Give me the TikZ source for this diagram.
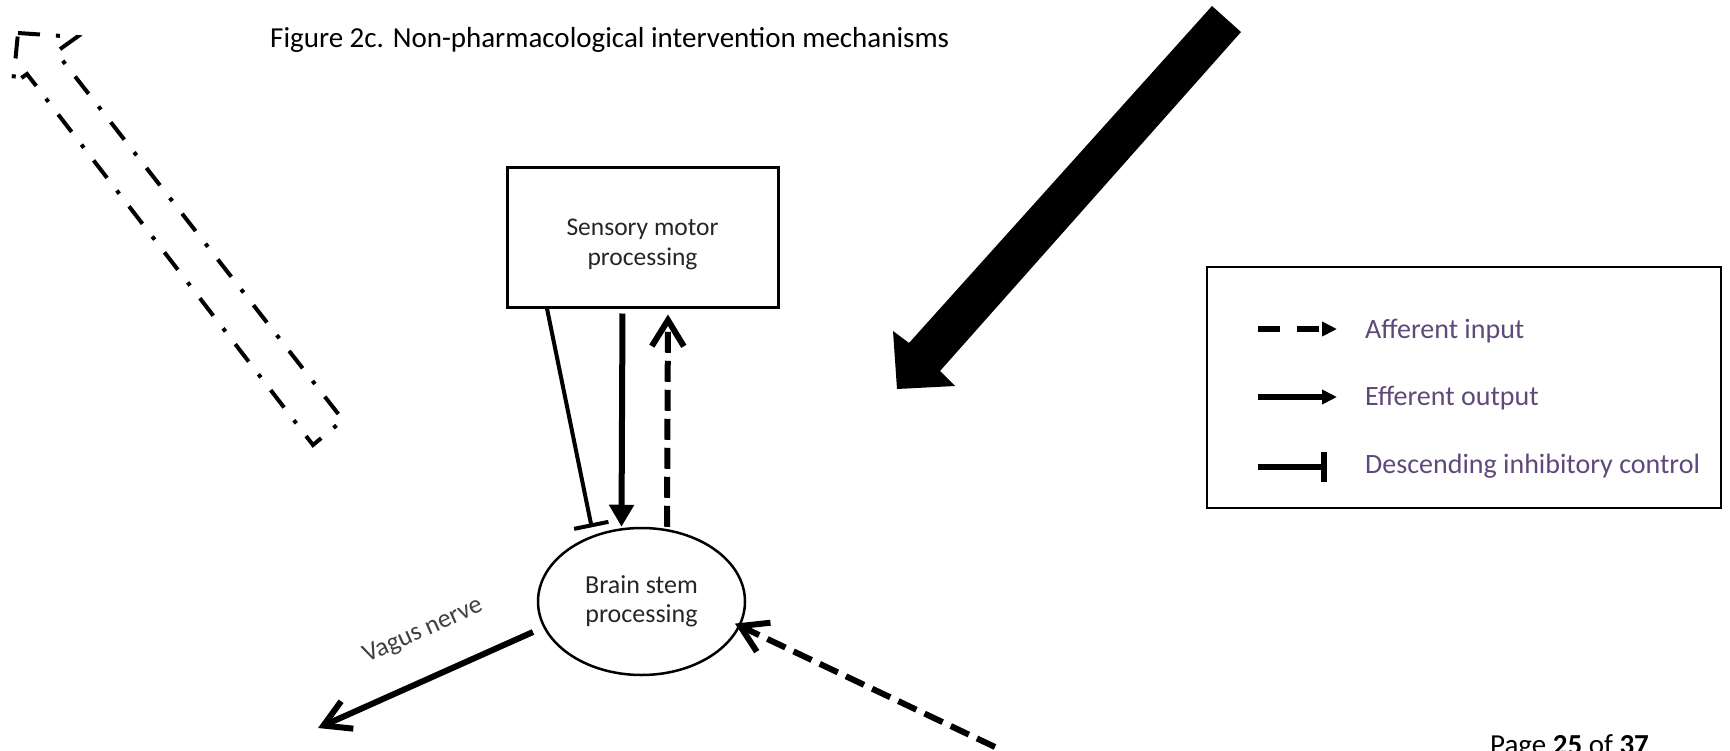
\documentclass[tikz,border=0pt]{standalone}
\usepackage{fontspec}
\setmainfont{Carlito}
\usetikzlibrary{arrows.meta,shapes.geometric}
\definecolor{legpurple}{HTML}{5F497A}
\definecolor{darktxt}{HTML}{262626}
\definecolor{labgrey}{HTML}{404040}
\newcommand\shiftedtext[2]{\raisebox{#1}[\height][\depth]{#2}}
\begin{document}
\begin{tikzpicture}[x=1pt,y=-1pt,
  blk/.style={draw, line width=3pt, minimum width=271pt, minimum height=140pt, inner sep=0pt},
  ell/.style={draw, ellipse, line width=2.5pt, minimum width=207pt, minimum height=147pt, inner sep=0pt},
  effarrow/.style={line width=6pt, -{Triangle[length=22pt,width=24pt]}},
  affarrow/.style={line width=6pt, dash pattern=on 21pt off 8pt, -{Straight Barb[length=26pt,width=32pt]}},
  inharrow/.style={line width=4pt, -{Bar[width=35pt]}},
  vagarrow/.style={line width=6pt, -{Straight Barb[length=26pt,width=30pt]}},
  dashdot/.style={line width=4pt, dash pattern=on 22pt off 16pt on 4pt off 16pt},
  legtext/.style={anchor=base west, inner sep=0pt, text=legpurple, font=\fontsize{28}{34}\selectfont},
  pagetext/.style={anchor=base west, inner sep=0pt, font=\fontsize{29}{35}\selectfont}
]
\useasboundingbox (0,0) rectangle (1730,750);
\clip (0,0) rectangle (1730,750);

% title
\node[pagetext] (title) at (270,47) {Figure 2c. Non-pharmacological intervention mechanisms};

% dash-dot block arrow outline (top left)
\draw[dashdot] (18,33) -- (77,37) -- (56,52) -- (343,420) -- (313,445) -- (27,74) -- (13,84) -- cycle;

% big black block arrow
\fill[black] (1212,6) -- (1241,32) -- (940,371) -- (955,386) -- (897,389) -- (893,331) -- (909,343) -- cycle;

% main nodes
\node[blk, text=darktxt] (smp) at (642.5,237)
  {\shiftedtext{-7pt}{\fontsize{25.5}{30}\selectfont\begin{tabular}{@{}c@{}}Sensory motor\\processing\end{tabular}}};
\node[ell, text=darktxt] (bsp) at (641.5,601.5)
  {\shiftedtext{-1pt}{\fontsize{26}{28.4}\selectfont\begin{tabular}{@{}c@{}}Brain stem\\processing\end{tabular}}};

% connectors between box and ellipse
\draw[inharrow, shorten >=8pt] ([xshift=-95.5pt]smp.south) -- (bsp.126);
\draw[effarrow, shorten <=5pt] ([xshift=-20pt]smp.south) -- ([xshift=-20pt]bsp.north);
\draw[affarrow, shorten >=6pt] ([xshift=25.5pt]bsp.north) -- ([xshift=25.5pt]smp.south);

% vagus nerve
\coordinate (vs) at (533,632);
\coordinate (ve) at (318,728);
\draw[vagarrow] (vs) -- (ve);
\node[rotate=24, inner sep=0pt, text=labgrey, font=\fontsize{26}{30}\selectfont] (vlab) at (423,631) {Vagus nerve};

% afferent input from bottom right
\coordinate (as) at (995,747);
\draw[affarrow, dash pattern=on 20pt off 9pt, shorten >=-6pt] (as) -- (bsp.-14);

% legend
\node[draw, line width=2pt, minimum width=514pt, minimum height=241pt, inner sep=0pt] (leg) at (1464,387.5) {};
\coordinate (a1) at (1258,329); \coordinate (a2) at (1337,329);
\coordinate (e1) at (1258,397); \coordinate (e2) at (1337,397);
\coordinate (i1) at (1258,467); \coordinate (i2) at (1327,467);
\draw[line width=6pt, dash pattern=on 22pt off 17pt, -{Triangle[length=15pt,width=14pt]}] (a1) -- (a2);
\draw[line width=6pt, -{Triangle[length=15pt,width=14pt]}] (e1) -- (e2);
\draw[line width=6pt, -{Bar[width=30pt]}] (i1) -- (i2);
\node[legtext] (t1) at (1365,338) {Afferent input};
\node[legtext] (t2) at (1365,405) {Efferent output};
\node[legtext] (t3) at (1365,473) {Descending inhibitory control};

% footer
\node[pagetext] (pg) at (1490,754) {Page \textbf{25} of \textbf{37}};
\end{tikzpicture}
\end{document}
